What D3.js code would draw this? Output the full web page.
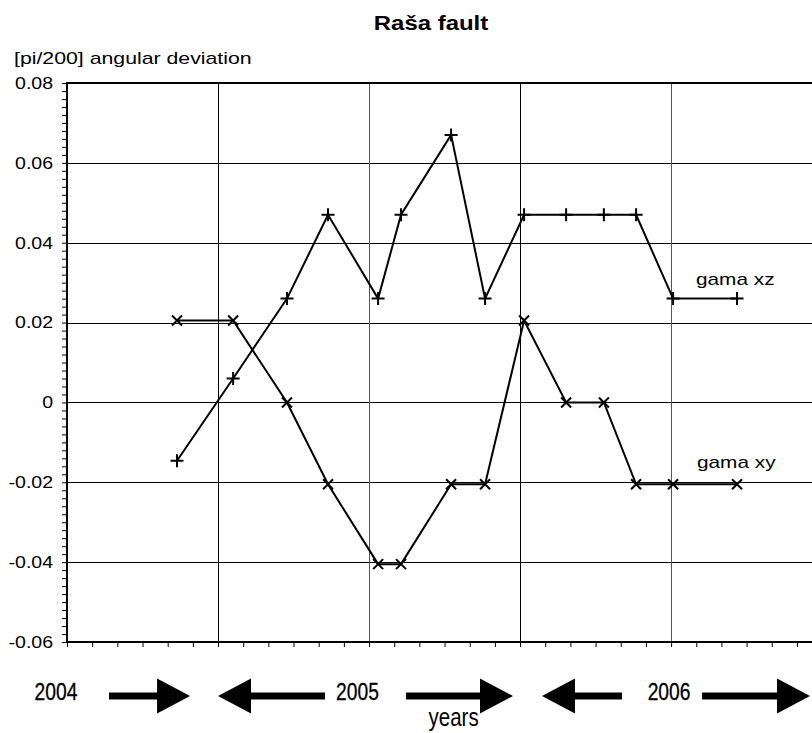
<!DOCTYPE html>
<html>
<head>
<meta charset="utf-8">
<script src="https://cdn.jsdelivr.net/npm/d3@7/dist/d3.min.js"></script>
<style>
  html, body { margin: 0; padding: 0; background: #fff; }
  svg { display: block; }
  text { font-family: "Liberation Sans", Arial, sans-serif; fill: #000; }
</style>
</head>
<body>
<svg id="chart" width="812" height="733"></svg>
<script>
// Measurement epochs, in months counted from July 2004
const months = [4.37, 6.60, 8.74, 10.37, 12.36, 13.27, 15.26, 16.61, 18.16, 19.83, 21.33, 22.61, 24.08, 26.62];
// Angular deviation [pi/200]
const gamaXZ = [-0.0146, 0.006, 0.026, 0.047, 0.026, 0.047, 0.067, 0.026, 0.047, 0.047, 0.047, 0.047, 0.026, 0.026];
const gamaXY = [0.0205, 0.0205, 0, -0.0205, -0.0405, -0.0405, -0.0205, -0.0205, 0.0205, 0, 0, -0.0205, -0.0205, -0.0205];
const yTicks = [-0.06, -0.04, -0.02, 0, 0.02, 0.04, 0.06, 0.08];
const yearLabels = ["2004", "2005", "2006"];

const svg = d3.select("#chart");
const plotL = 67, plotT = 83, plotB = 642;

const x = d3.scaleLinear().domain([0, 30]).range([plotL, plotL + 30 * 25.17]);
const y = d3.scaleLinear().domain([-0.06, 0.08]).range([plotB, plotT]);

// Text helper: places a label at (px, py) with a horizontal stretch factor
function label(g, px, py, str, size, sx, opts = {}) {
  return g.append("text")
    .attr("transform", `translate(${px},${py}) scale(${sx},1)`)
    .attr("font-size", size)
    .attr("text-anchor", opts.anchor || "start")
    .attr("font-weight", opts.weight || "normal")
    .text(str);
}

// Title and axis caption
label(svg, 431, 30, "Raša fault", 21, 1.14, { anchor: "middle", weight: "bold" });
label(svg, 14, 64, "[pi/200] angular deviation", 16, 1.33);

// Grid
const grid = svg.append("g").attr("shape-rendering", "crispEdges").attr("stroke", "#000").attr("stroke-width", 1);
grid.selectAll("line.h").data(yTicks.filter(v => v > -0.06 && v < 0.08)).join("line")
  .attr("x1", plotL).attr("x2", 812).attr("y1", d => Math.round(y(d)) + 0.5).attr("y2", d => Math.round(y(d)) + 0.5);
grid.selectAll("line.v").data([6, 12, 18, 24]).join("line")
  .attr("x1", d => Math.round(x(d)) + 0.5).attr("x2", d => Math.round(x(d)) + 0.5)
  .attr("y1", plotT).attr("y2", plotB)
  .attr("stroke", (d, i) => i % 2 ? "#555" : "#000");

// Frame top edge
svg.append("line").attr("x1", plotL).attr("x2", 812).attr("y1", plotT).attr("y2", plotT)
  .attr("stroke", "#000").attr("stroke-width", 2);

// Y axis with minor ticks
const yMinor = d3.range(-0.06, 0.0801, 0.002);
const yAxis = svg.append("g").attr("transform", `translate(${plotL},0)`);
yAxis.call(d3.axisLeft(y).tickValues(yMinor).tickSize(5).tickFormat(""));
yAxis.select(".domain").remove();
yAxis.selectAll("line").attr("stroke-width", 1);
const yLab = svg.append("g");
yTicks.forEach(v => label(yLab, 53, y(v) + 5.8, v === 0 ? "0" : v.toFixed(2), 16, 1.22, { anchor: "end" }));
svg.append("line").attr("x1", plotL).attr("x2", plotL).attr("y1", plotT - 1).attr("y2", plotB + 1)
  .attr("stroke", "#000").attr("stroke-width", 2);

// X axis: monthly ticks, no labels
const xAxis = svg.append("g").attr("transform", `translate(0,${plotB})`);
xAxis.call(d3.axisBottom(x).tickValues(d3.range(0, 31, 1)).tickSize(5).tickFormat(""));
xAxis.select(".domain").remove();
svg.append("line").attr("x1", plotL - 1).attr("x2", 812).attr("y1", plotB).attr("y2", plotB)
  .attr("stroke", "#000").attr("stroke-width", 2);

// Series lines
const line = d3.line().x(d => x(d[0])).y(d => y(d[1]));
const xz = months.map((m, i) => [m, gamaXZ[i]]);
const xy = months.map((m, i) => [m, gamaXY[i]]);
[xz, xy].forEach(s => svg.append("path").datum(s).attr("d", line)
  .attr("fill", "none").attr("stroke", "#000").attr("stroke-width", 2));

// Markers: plus for gama xz, cross for gama xy
svg.append("g").selectAll("path").data(xz).join("path")
  .attr("transform", d => `translate(${x(d[0])},${y(d[1])})`)
  .attr("d", "M-6.5,0H6.5M0,-6.5V6.5").attr("stroke", "#000").attr("stroke-width", 2);
svg.append("g").selectAll("path").data(xy).join("path")
  .attr("transform", d => `translate(${x(d[0])},${y(d[1])})`)
  .attr("d", "M-5,-5L5,5M-5,5L5,-5").attr("stroke", "#000").attr("stroke-width", 2);

// Series names
label(svg, 696, 285, "gama xz", 16, 1.3);
label(svg, 697, 468, "gama xy", 16, 1.3);

// Year band under the axis: labels and arrows
const arrowY = 696;
function arrow(from, to) {
  const x0 = x(from), x1 = x(to), dir = Math.sign(x1 - x0);
  const hx = x1 - dir * 33;
  return `M${x0},${arrowY - 3.5}L${hx},${arrowY - 3.5}L${hx},${arrowY - 17.5}L${x1},${arrowY}` +
         `L${hx},${arrowY + 17.5}L${hx},${arrowY + 3.5}L${x0},${arrowY + 3.5}Z`;
}
const arrows = [[1.67, 4.89], [10.25, 6.0], [13.47, 17.72], [22.05, 18.87], [25.23, 29.52]];
svg.append("g").selectAll("path").data(arrows).join("path")
  .attr("d", d => arrow(d[0], d[1])).attr("fill", "#000");
const yearPos = [-0.44, 11.54, 23.92];
const yearG = svg.append("g");
yearLabels.forEach((s, i) => label(yearG, x(yearPos[i]), 700, s, 23.5, 0.82, { anchor: "middle" })
  .attr("stroke", "#000").attr("stroke-width", 0.3));
label(svg, x(15.36), 726, "years", 25, 0.82, { anchor: "middle" });
</script>
</body>
</html>
